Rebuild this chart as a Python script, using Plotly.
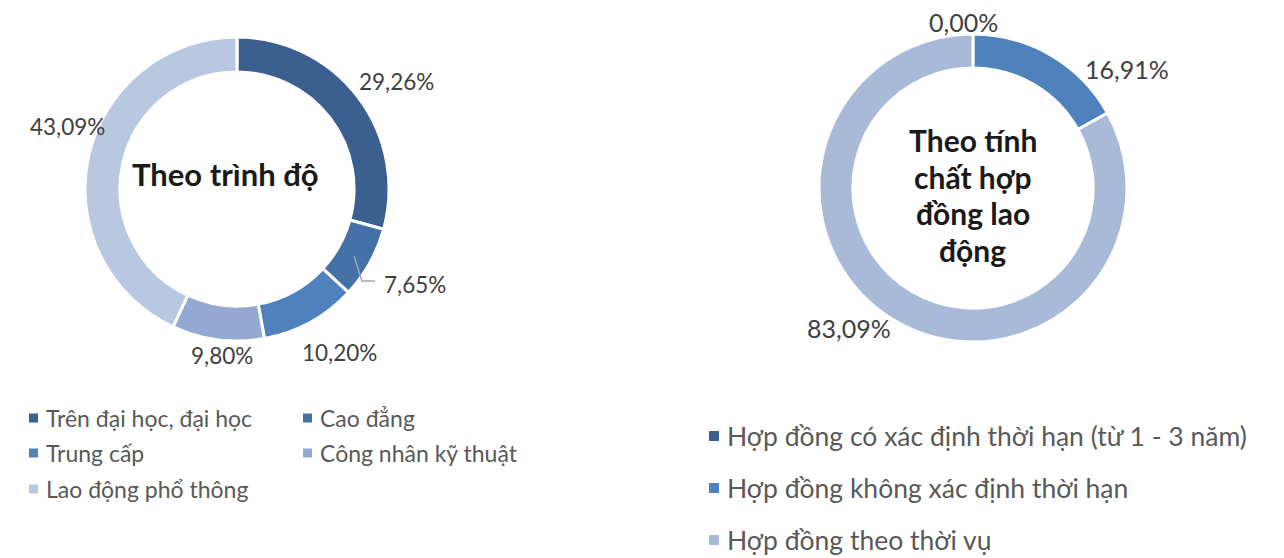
import plotly.graph_objects as go

# ---- data ----
edu_labels = ["Trên đại học, đại học", "Cao đẳng", "Trung cấp",
              "Công nhân kỹ thuật", "Lao động phổ thông"]
edu_values = [29.26, 7.65, 10.20, 9.80, 43.09]

contract_labels = ["Hợp đồng có xác định thời hạn (từ 1 - 3 năm)",
                   "Hợp đồng không xác định thời hạn",
                   "Hợp đồng theo thời vụ"]
contract_values = [0.00, 16.91, 83.09]

edu_title = "Theo trình độ"
contract_title_lines = ["Theo tính", "chất hợp", "đồng lao", "động"]

# ---- styling ----
edu_colors = ["#3b5f8f", "#4472a8", "#4f81bd", "#93a9d1", "#b9c8e1"]
contract_colors = ["#3b5f8f", "#4f81bd", "#a9bad8"]
FONT = "Lato"
TEXT = "#404040"
LEG = "#595959"

W, H = 1284, 558


def px(x):
    return x / W


def py(y):
    return 1 - y / H


def pct(v):
    return f"{v:.2f}".replace(".", ",") + "%"


def domain(cx, cy, r):
    return dict(x=[px(cx - r), px(cx + r)], y=[py(cy + r), py(cy - r)])


fig = go.Figure()

fig.add_trace(go.Pie(
    labels=edu_labels, values=edu_values, sort=False, direction="clockwise",
    rotation=0, hole=0.77, textinfo="none", hoverinfo="label+percent",
    marker=dict(colors=edu_colors, line=dict(color="white", width=3)),
    domain=domain(237, 189, 152), showlegend=False,
))
fig.add_trace(go.Pie(
    labels=contract_labels, values=contract_values, sort=False,
    direction="clockwise", rotation=0, hole=0.78, textinfo="none",
    hoverinfo="label+percent",
    marker=dict(colors=contract_colors, line=dict(color="white", width=3)),
    domain=domain(973, 188, 154), showlegend=False,
))

annotations = []


def text_at(x, y, text, size, color, xanchor="center", bold=False):
    annotations.append(dict(
        x=px(x), y=py(y), xref="paper", yref="paper",
        xanchor=xanchor, yanchor="middle", align="center",
        text=f"<b>{text}</b>" if bold else text, showarrow=False,
        font=dict(family=FONT, size=size, color=color)))


# value labels around each ring
edu_label_pos = [(396, 82), (415, 284), (340, 352), (222, 355), (67, 127)]
for v, (x, y) in zip(edu_values, edu_label_pos):
    text_at(x, y, pct(v), 22.5, TEXT)

contract_label_pos = [(963, 22), (1127, 69), (849, 328)]
for v, (x, y) in zip(contract_values, contract_label_pos):
    text_at(x, y, pct(v), 25, TEXT)

# centre titles
text_at(225, 174, edu_title, 31, "#1a1a1a", bold=True)
for i, line in enumerate(contract_title_lines):
    text_at(973, 140 + 36.7 * i, line, 30, "#1a1a1a", bold=True)

shapes = []

# leader line for the small slice label
shapes.append(dict(type="path", xref="paper", yref="paper",
                   path=f"M {px(354)} {py(256)} L {px(362)} {py(281)} L {px(375)} {py(281)}",
                   line=dict(color="#a6a6a6", width=1.5)))


def legend_item(x, y, color, text, size, sq):
    shapes.append(dict(type="rect", xref="paper", yref="paper",
                       x0=px(x), x1=px(x + sq), y0=py(y + sq / 2), y1=py(y - sq / 2),
                       fillcolor=color, line=dict(width=0)))
    text_at(x + sq + 6, y, text, size, LEG, xanchor="left")


edu_leg_pos = [(29, 418), (303, 418), (29, 453), (303, 453), (29, 489)]
for (x, y), c, t in zip(edu_leg_pos, edu_colors, edu_labels):
    legend_item(x, y, c, t, 23, 9)

contract_leg_pos = [(709, 436), (709, 488), (709, 540)]
for (x, y), c, t in zip(contract_leg_pos, contract_colors, contract_labels):
    legend_item(x, y, c, t, 26.5, 10)

fig.update_layout(
    width=W, height=H, margin=dict(l=0, r=0, t=0, b=0),
    paper_bgcolor="white", plot_bgcolor="white",
    annotations=annotations, shapes=shapes,
)

fig.write_html("out.html")
